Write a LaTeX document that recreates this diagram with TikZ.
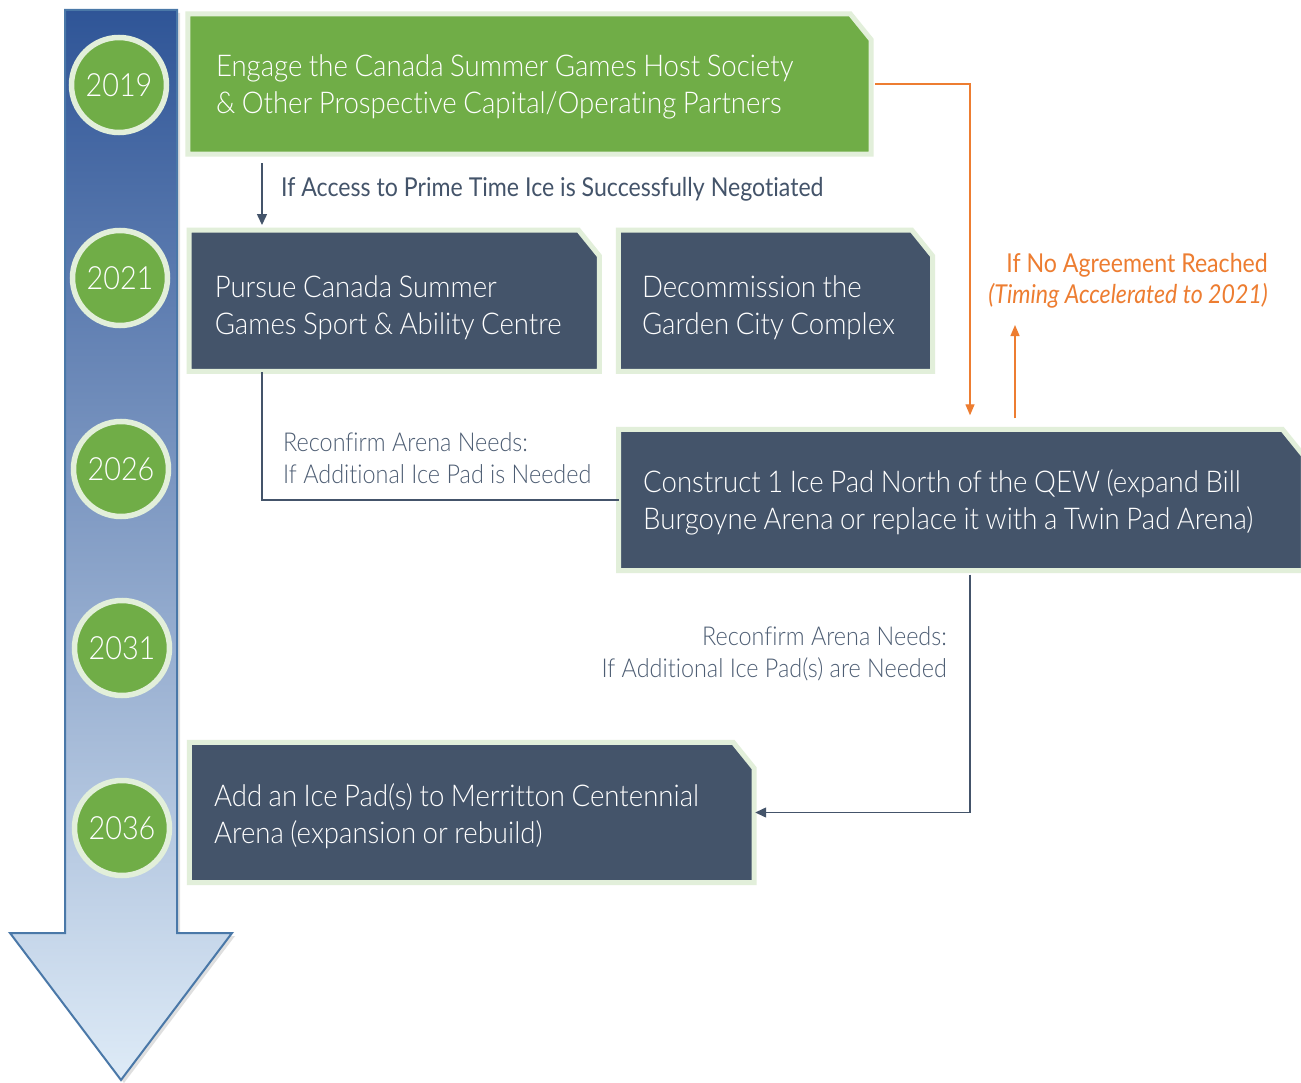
\documentclass[tikz,border=0pt]{standalone}
\usepackage{fontspec}
\setmainfont{Lato Light}[FakeStretch=0.9, Ligatures=NoCommon]
\newfontfamily\boxfam{Lato Light}[FakeStretch=0.92, Ligatures=NoCommon]
\newfontfamily\regfont{Lato}[FakeStretch=0.89, Ligatures=NoCommon]
\usetikzlibrary{arrows.meta,backgrounds,shadows,calc}
\definecolor{slate}{HTML}{44546A}
\definecolor{greenf}{HTML}{70AD47}
\definecolor{lightg}{HTML}{E2EFDA}
\definecolor{orng}{HTML}{ED7D31}
\definecolor{arrtop}{HTML}{2F5597}
\definecolor{arrbot}{HTML}{DEEBF7}
\definecolor{arrbord}{HTML}{4A78A8}
\definecolor{lbltext}{HTML}{4D5D73}
\newcommand\bxfont{\boxfam\fontsize{30}{37}\selectfont}
\newcommand\yrfont{\fontsize{32}{36}\selectfont}
\newcommand\lblfont{\fontsize{26}{32}\selectfont}
\newcommand\condfont{\regfont\fontsize{26}{31}\selectfont}
\newcommand\chamferbox[2]{%
  \draw[draw=lightg, line width=5, fill=#2, line join=miter]
    (#1.north west) -- ($(#1.north east)+(-21,0)$) -- ($(#1.north east)+(0,26)$)
    -- (#1.south east) -- (#1.south west) -- cycle;}
\tikzset{
  boxtxt/.style={inner ysep=0, align=left, text=white, font=\bxfont,
    execute at begin node={\spaceskip=6.5pt plus 1pt\relax}},
  tpos/.style={text height=#1pt, text depth=44pt},
  yearc/.style={circle, fill=greenf, draw=lightg, line width=5.5, minimum size=95,
    inner sep=0, text=white, font=\yrfont},
  sarrow/.style={draw=slate, line width=1.3, -{Triangle[length=11pt,width=10pt]}},
  sline/.style={draw=slate, line width=1.3},
  oarrow/.style={draw=orng, line width=1.3, -{Triangle[length=11pt,width=9pt]}},
  lbl/.style={inner sep=0, text=lbltext, font=\lblfont},
}
\begin{document}
\begin{tikzpicture}[x=1pt,y=-1pt]
\useasboundingbox (0,0) rectangle (1301,1083);
\clip (0,0) rectangle (1301,1083);

% box nodes (text)
\node[boxtxt, tpos=28.5, inner xsep=28, text width=627, minimum height=140] (b1) at (529.5,84)
  {Engage the Canada Summer Games Host Society\\\& Other Prospective Capital/Operating Partners};
\node[boxtxt, tpos=38.5, inner xsep=25.5, text width=359, minimum height=141] (b2) at (394.25,300.75)
  {Pursue Canada Summer\\Games Sport \& Ability Centre};
\node[boxtxt, tpos=38.5, inner xsep=23.5, text width=267, minimum height=141] (b3) at (775.5,300.75)
  {Decommission the\\Garden City Complex};
\node[boxtxt, tpos=28.5, inner xsep=24.5, text width=635.5, minimum height=141, anchor=west] (b4) at (618.5,500)
  {Construct 1 Ice Pad North of the QEW (expand Bill\\Burgoyne Arena or replace it with a Twin Pad Arena)};
\node[boxtxt, tpos=32.5, inner xsep=24.5, text width=515.5, minimum height=140] (b5) at (471.75,812.5)
  {Add an Ice Pad(s) to Merritton Centennial\\Arena (expansion or rebuild)};

\begin{scope}[on background layer]
  \fill[white] (0,0) rectangle (1301,1083);
  % timeline arrow
  \draw[draw=arrbord, line width=2, top color=arrtop, bottom color=arrbot,
        drop shadow={opacity=0.25, shadow xshift=3pt, shadow yshift=-3pt}]
    (65,10) -- (177,10) -- (177,933) -- (232,933) -- (121,1080) -- (10,933) -- (65,933) -- cycle;
  \chamferbox{b1}{greenf}
  \chamferbox{b2}{slate}
  \chamferbox{b3}{slate}
  \chamferbox{b4}{slate}
  \chamferbox{b5}{slate}
\end{scope}

% year circles
\node[yearc] (y19) at (119,85) {2019};
\node[yearc] (y21) at (120,278) {2021};
\node[yearc] (y26) at (121,469) {2026};
\node[yearc] (y31) at (122,648) {2031};
\node[yearc] (y36) at (122,828) {2036};

% labels
\node[inner sep=0, text=slate, font=\condfont, anchor=west] (lacc) at (281,189)
  {If Access to Prime Time Ice is Successfully Negotiated};
\node[lbl, align=left, anchor=west] (lrc1) at (283,458)
  {Reconfirm Arena Needs:\\If Additional Ice Pad is Needed};
\node[lbl, align=right, anchor=east] (lrc2) at (947,654)
  {Reconfirm Arena Needs:\\If Additional Ice Pad(s) are Needed};
\node[inner sep=0, text=orng, font=\condfont, align=right, anchor=east] (lno) at (1268,281)
  {If No Agreement Reached\\\itshape(Timing Accelerated to 2021)};

% connector reference coordinates
\coordinate (cx1) at (262,0);
\coordinate (cx2) at (970,0);
\coordinate (cx3) at (1015,325);

% connectors
\draw[sarrow, shorten <=9pt, shorten >=5pt] (b1.south -| cx1) -- (b2.north -| cx1);
\draw[sline, shorten <=1pt] (b2.south -| cx1) |- (b4.west);
\draw[sarrow, shorten <=4pt, shorten >=1pt] (b4.south -| cx2) |- (b5.east);
\draw[oarrow, shorten <=4pt, shorten >=14pt] (b1.east) -| (b4.north -| cx2);
\draw[oarrow, shorten <=11pt] (b4.north -| cx3) -- (cx3);
\end{tikzpicture}
\end{document}
